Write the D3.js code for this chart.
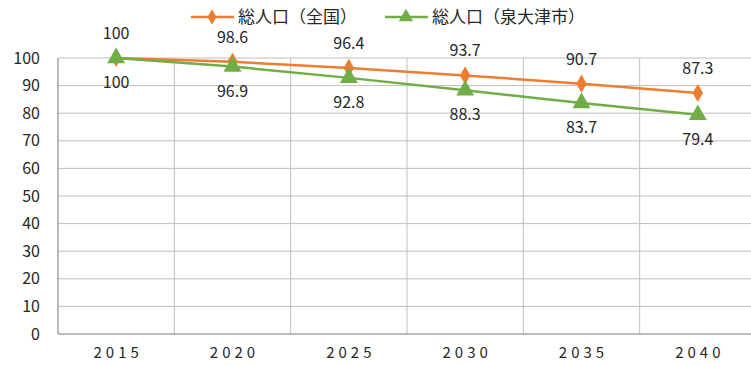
<!DOCTYPE html>
<html>
<head>
<meta charset="utf-8">
<script src="https://cdn.jsdelivr.net/npm/d3@7"></script>
<style>
  body { margin: 0; background: #fff; }
  text { font-family: "Noto Sans CJK JP", "Noto Sans", sans-serif; fill: #262626; }
</style>
</head>
<body>
<div id="vis"></div>
<script>
var years = ["2015", "2020", "2025", "2030", "2035", "2040"];
var national = [100, 98.6, 96.4, 93.7, 90.7, 87.3];
var izumiotsu = [100, 96.9, 92.8, 88.3, 83.7, 79.4];
var yTicks = [0, 10, 20, 30, 40, 50, 60, 70, 80, 90, 100];
var seriesNames = ["総人口（全国）", "総人口（泉大津市）"];

var width = 751, height = 365;
var margin = { top: 58, right: -5, bottom: 31, left: 58 };
var orange = "#ED7D31", green = "#70AD47";

var svg = d3.select("#vis").append("svg")
  .attr("width", width)
  .attr("height", height);

var x = d3.scaleBand()
  .domain(years)
  .range([margin.left, width - margin.right]);
var y = d3.scaleLinear()
  .domain([0, 100])
  .range([height - margin.bottom, margin.top]);

////////// grid //////////
svg.append("g")
  .selectAll("line")
  .data(yTicks.slice(1))
  .enter().append("line")
  .attr("x1", margin.left).attr("x2", width)
  .attr("y1", function (d) { return y(d); })
  .attr("y2", function (d) { return y(d); })
  .attr("stroke", "#bfbfbf").attr("stroke-width", 1);

svg.append("g")
  .selectAll("line")
  .data(years.slice(1))
  .enter().append("line")
  .attr("x1", function (d) { return x(d); })
  .attr("x2", function (d) { return x(d); })
  .attr("y1", y(100)).attr("y2", y(0))
  .attr("stroke", "#bfbfbf").attr("stroke-width", 1);

// axes lines
svg.append("line")
  .attr("x1", margin.left).attr("x2", margin.left)
  .attr("y1", y(100)).attr("y2", y(0))
  .attr("stroke", "#a6a6a6").attr("stroke-width", 1.5);
svg.append("line")
  .attr("x1", margin.left).attr("x2", width)
  .attr("y1", y(0)).attr("y2", y(0))
  .attr("stroke", "#a6a6a6").attr("stroke-width", 1.5);

////////// tick labels //////////
svg.append("g")
  .selectAll("text")
  .data(yTicks)
  .enter().append("text")
  .attr("x", 40)
  .attr("y", function (d) { return y(d); })
  .attr("dy", "0.35em")
  .attr("text-anchor", "end")
  .style("font-size", "16px")
  .text(function (d) { return d; });

svg.append("g")
  .selectAll("text")
  .data(years)
  .enter().append("text")
  .attr("x", function (d) { return x(d) + x.bandwidth() / 2 + 2; })
  .attr("y", 358)
  .attr("text-anchor", "middle")
  .style("font-size", "15px")
  .style("letter-spacing", "4px")
  .text(function (d) { return d; });

////////// series //////////
var line = d3.line()
  .x(function (d, i) { return x(years[i]) + x.bandwidth() / 2; })
  .y(function (d) { return y(d); });

function drawSeries(values, color, symbol, size, labelDy) {
  var g = svg.append("g");
  g.append("path")
    .datum(values)
    .attr("d", line)
    .attr("fill", "none")
    .attr("stroke", color)
    .attr("stroke-width", 2.5);
  g.selectAll("path.mark")
    .data(values)
    .enter().append("path")
    .attr("class", "mark")
    .attr("d", d3.symbol().type(symbol).size(size))
    .attr("transform", function (d, i) {
      return "translate(" + (x(years[i]) + x.bandwidth() / 2) + "," + y(d) + ")";
    })
    .attr("fill", color);
  g.selectAll("text")
    .data(values)
    .enter().append("text")
    .attr("x", function (d, i) { return x(years[i]) + x.bandwidth() / 2; })
    .attr("y", function (d) { return y(d) + labelDy; })
    .attr("text-anchor", "middle")
    .style("font-size", "16px")
    .text(function (d) { return d; });
}

drawSeries(national, orange, d3.symbolDiamond, 95, -19);
drawSeries(izumiotsu, green, d3.symbolTriangle, 140, 30);

////////// legend //////////
var legend = [
  { name: seriesNames[0], color: orange, symbol: d3.symbolDiamond, size: 70, x: 191 },
  { name: seriesNames[1], color: green, symbol: d3.symbolTriangle, size: 90, x: 385 }
];
var lg = svg.append("g").selectAll("g")
  .data(legend)
  .enter().append("g")
  .attr("transform", function (d) { return "translate(" + d.x + ",17)"; });
lg.append("line")
  .attr("x1", 0).attr("x2", 43)
  .attr("stroke", function (d) { return d.color; })
  .attr("stroke-width", 2.5);
lg.append("path")
  .attr("d", function (d) { return d3.symbol().type(d.symbol).size(d.size)(); })
  .attr("transform", "translate(21,0)")
  .attr("fill", function (d) { return d.color; });
lg.append("text")
  .attr("x", 47)
  .attr("dy", "0.35em")
  .style("font-size", "17px")
  .text(function (d) { return d.name; });
</script>
</body>
</html>
